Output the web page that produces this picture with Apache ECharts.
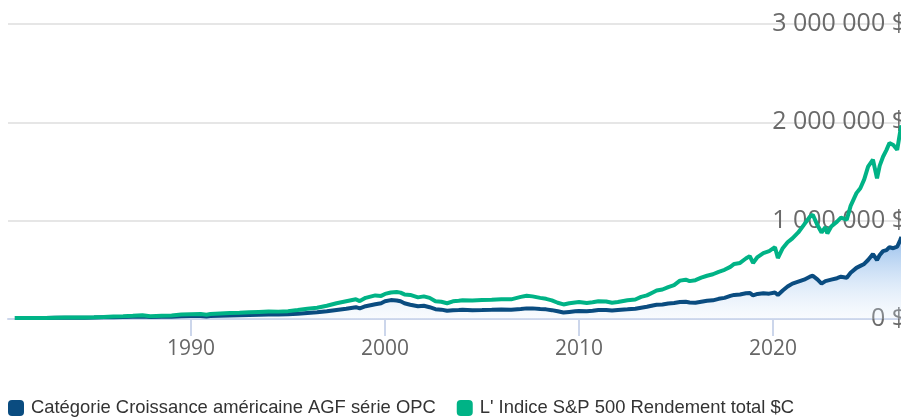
<!DOCTYPE html>
<html>
<head>
<meta charset="utf-8">
<script src="https://cdn.jsdelivr.net/npm/echarts@6/dist/echarts.min.js"></script>
<style>
  html, body { margin: 0; padding: 0; width: 901px; height: 418px; overflow: hidden; background: #fff; }
  #chart { width: 920px; height: 418px; }
</style>
</head>
<body>
<div id="chart"></div>
<script>
// Dates as decimal years
const years = [
  1980.92, 1981.5, 1982.0, 1982.5, 1983.0, 1983.5, 1984.0, 1984.5, 1985.0, 1985.5,
  1986.0, 1986.5, 1987.0, 1987.5, 1987.9, 1988.5, 1989.0, 1989.5, 1990.0, 1990.5,
  1990.8, 1991.0, 1991.5, 1992.0, 1992.5, 1993.0, 1993.5, 1994.0, 1994.5, 1995.0,
  1995.5, 1996.0, 1996.5, 1997.0, 1997.5, 1998.0, 1998.5, 1998.7, 1999.0, 1999.5,
  1999.8, 2000.0, 2000.3, 2000.6, 2000.8, 2001.0, 2001.3, 2001.7, 2002.0, 2002.3,
  2002.6, 2002.9, 2003.2, 2003.5, 2003.8, 2004.0, 2004.5, 2005.0, 2005.5, 2006.0,
  2006.5, 2007.0, 2007.3, 2007.6, 2008.0, 2008.3, 2008.6, 2008.9, 2009.2, 2009.5,
  2009.8, 2010.0, 2010.4, 2010.7, 2011.0, 2011.4, 2011.7, 2012.0, 2012.5, 2012.9,
  2013.2, 2013.5, 2013.8, 2014.0, 2014.3, 2014.6, 2014.9, 2015.2, 2015.5, 2015.7,
  2016.0, 2016.3, 2016.6, 2016.9, 2017.2, 2017.5, 2017.8, 2018.0, 2018.3, 2018.6,
  2018.8, 2018.97, 2019.2, 2019.5, 2019.8, 2020.1, 2020.25, 2020.5, 2020.75, 2021.0,
  2021.3, 2021.6, 2021.9, 2022.05, 2022.3, 2022.5, 2022.7, 2022.8, 2023.0, 2023.3,
  2023.5, 2023.8, 2024.0, 2024.3, 2024.5, 2024.7, 2024.9, 2025.15, 2025.36, 2025.5,
  2025.67, 2025.85, 2026.0, 2026.2, 2026.4, 2026.55, 2026.62
];

// Growth of the fund category, thousands of $
const fundValues = [
  10, 10, 10, 10.5, 13, 13.5, 13, 13.5, 15, 17,
  19, 21, 22, 25, 20, 22, 24, 28, 30, 31,
  26, 30, 33, 36, 37, 41, 44, 46, 45, 48,
  54, 62, 68, 78, 92, 105, 120, 108, 130, 150,
  160, 180, 192, 188, 180, 160, 145, 130, 135, 120,
  100, 95, 84, 90, 92, 94, 90, 91, 93, 96,
  94, 102, 108, 108, 102, 98, 90, 78, 66, 72,
  78, 82, 80, 84, 92, 92, 86, 92, 98, 104,
  115, 125, 138, 145, 148, 158, 163, 172, 175, 168,
  165, 175, 185, 190, 205, 215, 235, 245, 250, 262,
  265, 240, 255, 262, 258, 270, 245, 290, 330, 360,
  380, 400, 430, 440, 400, 360, 385, 370, 400, 415,
  430, 420, 470, 520, 540, 560, 600, 660, 600, 650,
  690, 700, 730, 720, 735, 800, 835
];

// Growth of the S&P 500 total return index in CAD, thousands of $
const indexValues = [
  10, 10.5, 10, 10.5, 13, 15, 15, 15.5, 18, 21,
  25, 28, 32, 37, 29, 33, 36, 45, 48, 50,
  43, 50, 55, 60, 63, 68, 72, 76, 75, 80,
  92, 105, 115, 135, 160, 180, 200, 182, 215, 240,
  235, 255, 270, 275, 268, 250, 245, 220, 230, 215,
  180, 175, 160, 180, 185, 190, 188, 192, 195, 202,
  200, 225, 237, 230, 215, 205, 190, 165, 148, 160,
  168, 172, 163, 170, 180, 178, 165, 172, 190, 198,
  225, 240, 270, 290, 300, 325, 345, 390, 400, 385,
  395, 420, 440, 455, 480, 500, 530, 560, 570, 615,
  640, 570, 630, 670, 690, 730, 620, 720, 780, 820,
  880, 960, 1040, 1060, 950, 880, 935, 870, 940, 990,
  1030, 1010, 1150, 1280, 1330, 1420, 1550, 1620, 1430, 1560,
  1650, 1720, 1790, 1770, 1720, 1900, 1970
];

const seriesNames = [
  'Catégorie Croissance américaine AGF série OPC',
  "L' Indice S&P 500 Rendement total $C"
];
const yearTicks = [1990, 2000, 2010, 2020];

const toPoints = vals => years.map((y, i) => [y, vals[i] * 1000]);

function formatMoney(v) {
  return String(v).replace(/\B(?=(\d{3})+(?!\d))/g, ' ') + ' $';
}

const chart = echarts.init(document.getElementById('chart'), null, { renderer: 'canvas' });

chart.setOption({
  animation: false,
  backgroundColor: '#ffffff',
  grid: { left: 8, right: 10, top: 24, bottom: 99, containLabel: false },
  legend: {
    left: 8,
    top: 399,
    padding: 0,
    itemWidth: 16,
    itemHeight: 16,
    itemGap: 21,
    icon: 'roundRect',
    textStyle: { fontFamily: 'Liberation Sans, Arial', fontSize: 18.4, color: '#333333', padding: [0, 0, 0, 2] },
    data: seriesNames
  },
  xAxis: {
    type: 'value',
    min: 1980.567,
    max: 2027.06,
    axisLine: { show: true, onZero: false, lineStyle: { color: '#ccd6eb', width: 2 } },
    axisTick: { show: true, length: 17, customValues: yearTicks, lineStyle: { color: '#ccd6eb', width: 2 } },
    axisLabel: {
      customValues: yearTicks,
      formatter: v => String(v),
      fontFamily: 'Open Sans',
      fontSize: 21,
      color: '#666666',
      margin: 20
    },
    splitLine: { show: false }
  },
  yAxis: {
    type: 'value',
    position: 'right',
    min: 0,
    max: 3000000,
    interval: 1000000,
    axisLine: { show: false },
    axisTick: { show: false },
    axisLabel: {
      inside: true,
      margin: 4,
      formatter: formatMoney,
      fontFamily: 'Open Sans',
      fontSize: 25,
      color: '#6a6a6a',
      padding: [7, 0, 0, 0]
    },
    splitLine: { show: true, lineStyle: { color: '#e6e6e6', width: 2 } }
  },
  series: [
    {
      name: seriesNames[0],
      type: 'line',
      data: toPoints(fundValues),
      showSymbol: false,
      symbol: 'none',
      color: '#0a4c80',
      lineStyle: { color: '#0a4c80', width: 4 },
      areaStyle: {
        color: new echarts.graphic.LinearGradient(0, 0, 0, 1, [
          { offset: 0, color: 'rgba(98,158,226,0.95)' },
          { offset: 1, color: 'rgba(225,237,250,0.3)' }
        ])
      },
      z: 2
    },
    {
      name: seriesNames[1],
      type: 'line',
      data: toPoints(indexValues),
      showSymbol: false,
      symbol: 'none',
      color: '#00b386',
      lineStyle: { color: '#00b386', width: 4 },
      z: 3
    }
  ]
});
</script>
</body>
</html>
